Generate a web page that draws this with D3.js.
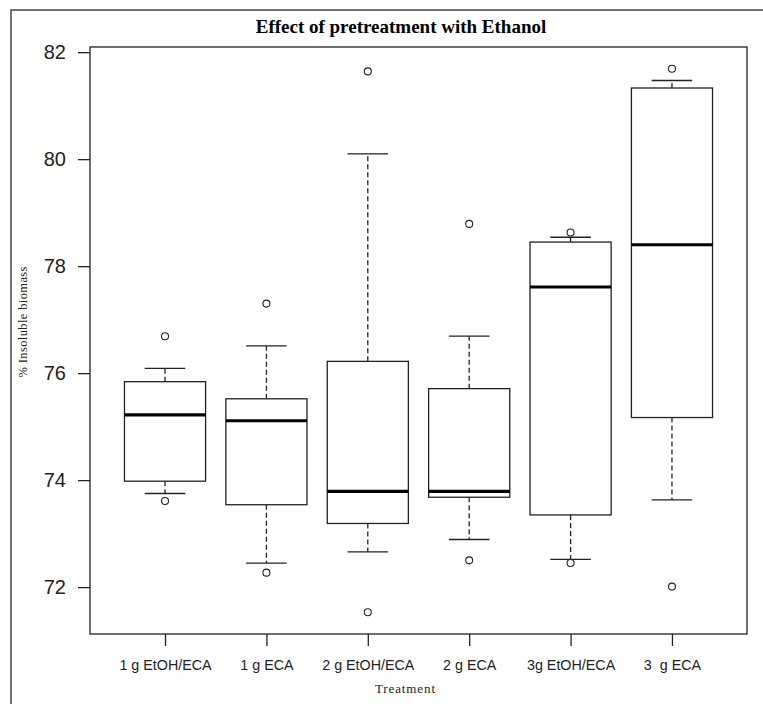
<!DOCTYPE html>
<html>
<head>
<meta charset="utf-8">
<script src="https://cdn.jsdelivr.net/npm/d3@7"></script>
<style>
  body { margin: 0; background: #fff; }
  svg { display: block; }
</style>
</head>
<body>
<div id="chart"></div>
<script>
// box statistics (per treatment)
var treatments = ["1 g EtOH/ECA", "1 g ECA", "2 g EtOH/ECA", "2 g ECA", "3g EtOH/ECA", "3  g ECA"];
var lowerWhisker = [73.75, 72.45, 72.66, 72.89, 72.52, 73.63];
var q1 = [73.98, 73.54, 73.19, 73.68, 73.35, 75.17];
var median = [75.22, 75.11, 73.79, 73.79, 77.61, 78.40];
var q3 = [75.84, 75.52, 76.22, 75.71, 78.45, 81.33];
var upperWhisker = [76.09, 76.51, 80.10, 76.69, 78.54, 81.47];
var outliers = [[76.69, 73.61], [77.30, 72.27], [81.64, 71.53], [78.79, 72.50], [78.63, 72.45], [81.69, 72.01]];
var yTicks = [72, 74, 76, 78, 80, 82];

var width = 763, height = 704;
var margin = {top: 47, right: 16, bottom: 70, left: 90};
var ink = "#222";

var svg = d3.select("#chart").append("svg")
    .attr("width", width)
    .attr("height", height);

// outer device frame (runs off the right and bottom edge)
svg.append("rect")
    .attr("x", 11).attr("y", 10)
    .attr("width", width).attr("height", height)
    .attr("fill", "none")
    .attr("stroke", "#444")
    .attr("stroke-width", 1.5);

var boxes = treatments.map(function(t, i) {
    return {name: t, lo: lowerWhisker[i], q1: q1[i], med: median[i], q3: q3[i], hi: upperWhisker[i], out: outliers[i]};
});

var allVals = d3.merge(boxes.map(d => [d.lo, d.hi].concat(d.out)));
var ext = d3.extent(allVals), pad = (ext[1] - ext[0]) * 0.04;

var y = d3.scaleLinear()
    .domain([ext[0] - pad, ext[1] + pad])
    .range([height - margin.bottom, margin.top]);

var x = d3.scalePoint()
    .domain(treatments)
    .range([margin.left, width - margin.right])
    .padding(0.74);

var boxW = x.step() * 0.8, capW = boxW / 2;

// axes
var yAxis = svg.append("g")
    .attr("transform", "translate(" + margin.left + ",0)")
    .call(d3.axisLeft(y).tickValues(yTicks).tickSize(12).tickPadding(12).tickFormat(d3.format("d")));
yAxis.select(".domain").remove();
yAxis.selectAll("line").attr("stroke", ink).attr("stroke-width", 1.3);
yAxis.selectAll("text")
    .attr("fill", ink)
    .style("font-family", "Liberation Sans, Arial, sans-serif")
    .style("font-size", "20px");

var xAxis = svg.append("g")
    .attr("transform", "translate(0," + (height - margin.bottom) + ")")
    .call(d3.axisBottom(x).tickSize(12).tickPadding(14));
xAxis.select(".domain").remove();
xAxis.selectAll("line").attr("stroke", ink).attr("stroke-width", 1.3);
xAxis.selectAll("text")
    .attr("fill", ink)
    .style("white-space", "pre")
    .style("font-family", "Liberation Sans, Arial, sans-serif")
    .style("font-size", "14.3px");

// plot box
svg.append("rect")
    .attr("x", margin.left).attr("y", margin.top)
    .attr("width", width - margin.right - margin.left)
    .attr("height", height - margin.bottom - margin.top)
    .attr("fill", "none")
    .attr("stroke", ink)
    .attr("stroke-width", 1.3);

var g = svg.selectAll(".box")
    .data(boxes)
    .enter()
    .append("g")
    .attr("class", "box")
    .attr("transform", d => "translate(" + x(d.name) + ",0)");

// dashed whiskers
g.append("line")
    .attr("y1", d => y(d.q3)).attr("y2", d => y(d.hi))
    .attr("stroke", ink).attr("stroke-dasharray", "5,3").attr("stroke-width", 1.3);
g.append("line")
    .attr("y1", d => y(d.q1)).attr("y2", d => y(d.lo))
    .attr("stroke", ink).attr("stroke-dasharray", "5,3").attr("stroke-width", 1.3);

// staples
g.append("line")
    .attr("x1", -capW / 2).attr("x2", capW / 2)
    .attr("y1", d => y(d.hi)).attr("y2", d => y(d.hi))
    .attr("stroke", ink).attr("stroke-width", 1.3);
g.append("line")
    .attr("x1", -capW / 2).attr("x2", capW / 2)
    .attr("y1", d => y(d.lo)).attr("y2", d => y(d.lo))
    .attr("stroke", ink).attr("stroke-width", 1.3);

g.append("rect")
    .attr("x", -boxW / 2)
    .attr("width", boxW)
    .attr("y", d => y(d.q3))
    .attr("height", d => y(d.q1) - y(d.q3))
    .attr("fill", "#fff")
    .attr("stroke", ink)
    .attr("stroke-width", 1.3);

g.append("line")
    .attr("x1", -boxW / 2).attr("x2", boxW / 2)
    .attr("y1", d => y(d.med)).attr("y2", d => y(d.med))
    .attr("stroke", "#000").attr("stroke-width", 3.2);

g.selectAll("circle")
    .data(d => d.out)
    .enter()
    .append("circle")
    .attr("cy", v => y(v))
    .attr("r", 3.5)
    .attr("fill", "none")
    .attr("stroke", ink)
    .attr("stroke-width", 1.1);

// titles
svg.append("text")
    .attr("x", 401).attr("y", 33)
    .attr("text-anchor", "middle")
    .style("font-family", "Liberation Serif, Times New Roman, serif")
    .style("font-weight", "bold")
    .style("font-size", "19px")
    .text("Effect of pretreatment with Ethanol");

svg.append("text")
    .attr("x", 405).attr("y", 693)
    .attr("text-anchor", "middle")
    .attr("textLength", 60)
    .attr("lengthAdjust", "spacing")
    .style("font-family", "Liberation Serif, Times New Roman, serif")
    .style("font-size", "13px")
    .attr("fill", ink)
    .text("Treatment");

svg.append("text")
    .attr("transform", "translate(27,322) rotate(-90)")
    .attr("text-anchor", "middle")
    .attr("textLength", 111)
    .attr("lengthAdjust", "spacing")
    .style("font-family", "Liberation Serif, Times New Roman, serif")
    .style("font-size", "12.5px")
    .attr("fill", ink)
    .text("% Insoluble biomass");
</script>
</body>
</html>
